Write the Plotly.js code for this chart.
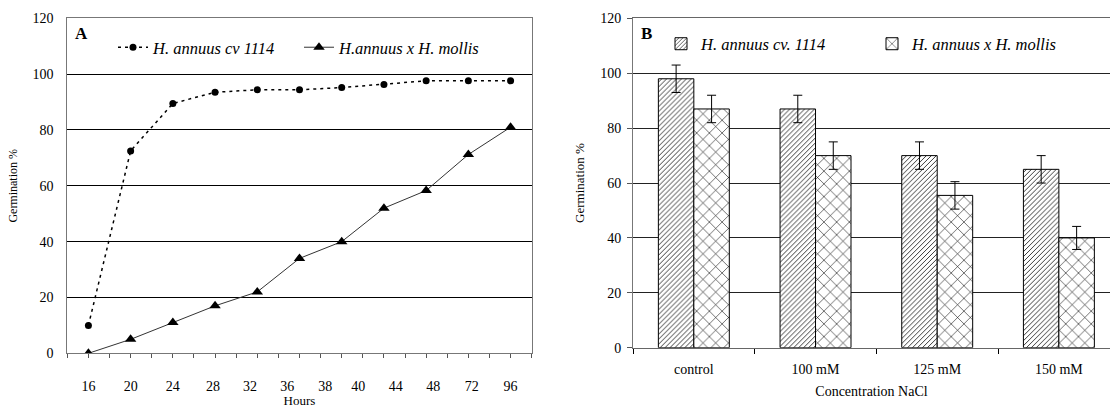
<!DOCTYPE html>
<html>
<head>
<meta charset="utf-8">
<script src="https://cdn.plot.ly/plotly-3.0.1.min.js"></script>
<style>html,body{margin:0;padding:0;background:#fff}#chart{width:1110px;height:408px}</style>
</head>
<body>
<div id="chart"></div>
<script>
// ---- Data (panel A) ----
const hourLabels = ['16','20','24','28','32','36','38','40','44','48','72','96'];
const cv1114Time = [10, 72.5, 89.5, 93.5, 94.4, 94.4, 95.2, 96.3, 97.6, 97.6, 97.6];
const hybridTime = [0, 5, 11, 17, 22, 34, 40, 52, 58.3, 71.2, 81];
// ---- Data (panel B) ----
const nacl = ['control', '100 mM', '125 mM', '150 mM'];
const cv1114Salt = [98, 87, 70, 65];
const cv1114Err = [5, 5, 5, 5];
const hybridSalt = [87, 70, 55.5, 40];
const hybridErr = [5, 5, 5, 4.2];

// layout helpers (positions only)
const W = 1110, H = 408;
const idx = cv1114Time.map((_, i) => i);
const hourTickPos = [0, 1.0, 2.0, 2.95, 3.83, 4.71, 5.61, 6.39, 7.28, 8.17, 9.08, 10];
const minorPos = [];
for (let v = -0.5; v <= 10.51; v += 0.5) minorPos.push(v);

const serif = '"Liberation Serif", "Times New Roman", serif';
const f = (size, extra) => Object.assign({family: serif, size: size, color: '#000'}, extra || {});

const traces = [
  {
    x: idx, y: cv1114Time, type: 'scatter', mode: 'lines+markers',
    name: 'H. annuus cv 1114', xaxis: 'x', yaxis: 'y', legend: 'legend',
    line: {color: '#000', width: 1.5, dash: '3px,4px'},
    marker: {symbol: 'circle', size: 7, color: '#000'}
  },
  {
    x: idx, y: hybridTime, type: 'scatter', mode: 'lines+markers',
    name: 'H.annuus x H. mollis', xaxis: 'x', yaxis: 'y', legend: 'legend',
    line: {color: '#333', width: 1},
    marker: {symbol: 'triangle-up', size: 10, color: '#000'}
  },
  {
    x: nacl, y: cv1114Salt, type: 'bar', name: 'H. annuus cv. 1114',
    xaxis: 'x2', yaxis: 'y2', legend: 'legend2',
    error_y: {type: 'data', array: cv1114Err, visible: true, color: '#000', thickness: 1, width: 4.5},
    marker: {color: '#fff', line: {color: '#000', width: 1},
      pattern: {shape: '/', fgcolor: '#000', bgcolor: '#fff', size: 3.5, solidity: 0.22}}
  },
  {
    x: nacl, y: hybridSalt, type: 'bar', name: 'H. annuus x H. mollis',
    xaxis: 'x2', yaxis: 'y2', legend: 'legend2',
    error_y: {type: 'data', array: hybridErr, visible: true, color: '#000', thickness: 1, width: 4.5},
    marker: {color: '#fff', line: {color: '#000', width: 1},
      pattern: {shape: 'x', fgcolor: '#000', bgcolor: '#fff', size: 9, solidity: 0.12}}
  }
];

const layout = {
  width: W, height: H,
  margin: {l: 0, r: 0, t: 0, b: 0},
  paper_bgcolor: '#fff', plot_bgcolor: '#fff',
  font: f(14),
  barmode: 'group', bargap: 0.417, bargroupgap: 0,
  xaxis: {
    domain: [67.3 / W, 531.7 / W], anchor: 'y',
    range: [-0.5, 10.5], tickmode: 'array', tickvals: hourTickPos, ticktext: hourLabels,
    ticks: '', ticklabelstandoff: 20, showgrid: false, zeroline: false,
    showline: true, linecolor: '#777', linewidth: 1, mirror: true,
    minor: {tickmode: 'array', tickvals: minorPos, ticks: 'outside', ticklen: 4, tickcolor: '#555', showgrid: false},
    tickfont: f(14),
    title: {text: 'Hours', font: f(13), standoff: 4}
  },
  yaxis: {
    domain: [(H - 353.3) / H, (H - 18.3) / H], anchor: 'x',
    range: [0, 120], dtick: 20, ticks: '', ticklabelstandoff: 10,
    showgrid: true, gridcolor: '#000', gridwidth: 1, zeroline: false,
    showline: true, linecolor: '#777', linewidth: 1, mirror: true,
    tickfont: f(14),
    title: {text: 'Germination %', font: f(12), standoff: 12}
  },
  xaxis2: {
    domain: [633 / W, 1], anchor: 'y2', type: 'category',
    range: [-0.5, 3.42], tickson: 'boundaries', ticks: 'outside', ticklen: 5, tickcolor: '#000',
    showgrid: false, zeroline: false, showline: true, linecolor: '#666', linewidth: 1, mirror: true,
    tickfont: f(14), ticklabelstandoff: 8,
    title: {text: 'Concentration NaCl', font: f(14), standoff: 10}
  },
  yaxis2: {
    domain: [(H - 347.7) / H, (H - 18.4) / H], anchor: 'x2',
    range: [0, 120], dtick: 20, ticks: 'outside', ticklen: 5, tickcolor: '#555',
    showgrid: true, gridcolor: '#222', gridwidth: 1, zeroline: false,
    showline: true, linecolor: '#777', linewidth: 1,
    tickfont: f(14), ticklabelstandoff: 3,
    title: {text: 'Germination %', font: f(13), standoff: 12}
  },
  legend: {
    orientation: 'h', x: 113 / W, y: 1 - 47.5 / H, xanchor: 'left', yanchor: 'middle',
    bgcolor: 'rgba(0,0,0,0)', font: f(16.5, {style: 'italic'}),
    entrywidth: 141
  },
  legend2: {
    orientation: 'h', x: 661 / W, y: 1 - 44 / H, xanchor: 'left', yanchor: 'middle',
    bgcolor: 'rgba(0,0,0,0)', font: f(16.5, {style: 'italic'}),
    entrywidth: 166
  },
  annotations: [
    {text: '<b>A</b>', xref: 'paper', yref: 'paper', x: 73 / W, y: 1 - 33 / H,
     xanchor: 'left', yanchor: 'middle', showarrow: false, font: f(17)},
    {text: '<b>B</b>', xref: 'paper', yref: 'paper', x: 639 / W, y: 1 - 33 / H,
     xanchor: 'left', yanchor: 'middle', showarrow: false, font: f(17)}
  ],
  showlegend: true
};

Plotly.newPlot('chart', traces, layout, {displayModeBar: false, staticPlot: true});
</script>
</body>
</html>
